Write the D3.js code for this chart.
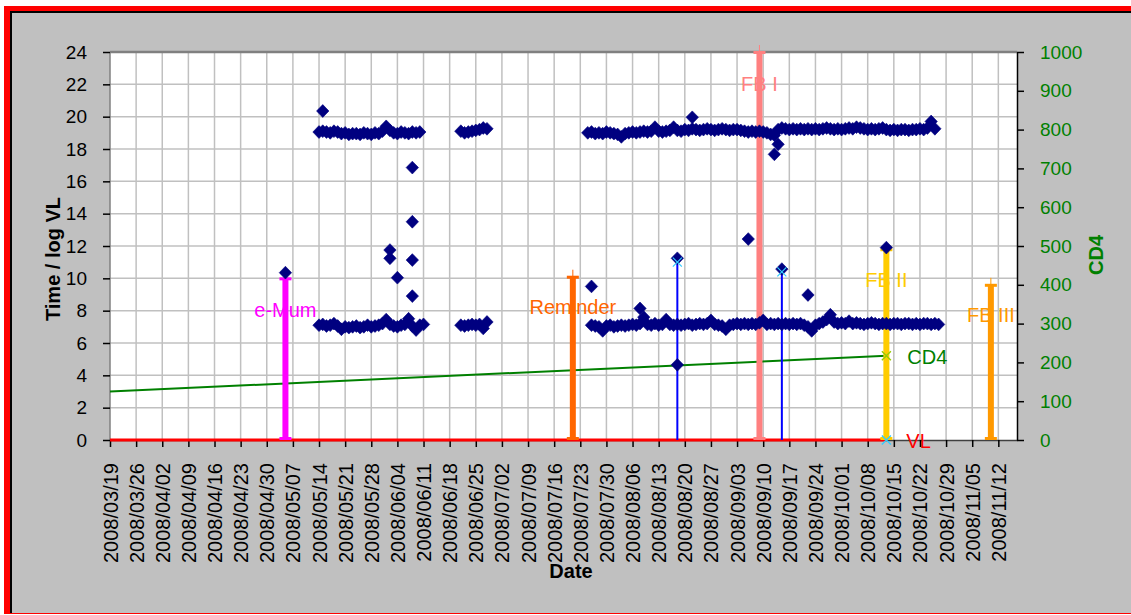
<!DOCTYPE html>
<html>
<head>
<meta charset="utf-8">
<script src="https://cdnjs.cloudflare.com/ajax/libs/d3/7.8.5/d3.min.js"></script>
<style>
body { margin: 0; background: #fff; }
svg text { font-family: "Liberation Sans", Arial, sans-serif; }
</style>
</head>
<body>
<div id="chart"></div>
<script>
var w = 1131, h = 615;

// axis range and ticks
var axisStart = "2008-03-19", axisEnd = "2008-11-17";
var xTicks = ["2008-03-19", "2008-03-26", "2008-04-02", "2008-04-09", "2008-04-16", "2008-04-23",
    "2008-04-30", "2008-05-07", "2008-05-14", "2008-05-21", "2008-05-28", "2008-06-04", "2008-06-11",
    "2008-06-18", "2008-06-25", "2008-07-02", "2008-07-09", "2008-07-16", "2008-07-23", "2008-07-30",
    "2008-08-06", "2008-08-13", "2008-08-20", "2008-08-27", "2008-09-03", "2008-09-10", "2008-09-17",
    "2008-09-24", "2008-10-01", "2008-10-08", "2008-10-15", "2008-10-22", "2008-10-29", "2008-11-05",
    "2008-11-12"];
var yTicks = [0, 2, 4, 6, 8, 10, 12, 14, 16, 18, 20, 22, 24];
var cd4Ticks = [0, 100, 200, 300, 400, 500, 600, 700, 800, 900, 1000];

// evening dose times (one value per day from the start date)
var evening1Start = "2008-05-14";
var evening1 = [19.05, 19.1, 19.05, 19.0, 19.1, 19.05, 18.95, 19.0, 18.9, 18.95, 18.95, 18.9, 19.0, 18.95,
    18.9, 19.0, 18.95, 19.1, 19.4, 19.15, 19.0, 18.95, 19.05, 19.0, 18.95, 19.05, 19.0, 19.05];
var evening2Start = "2008-06-21";
var evening2 = [19.1, 19.0, 19.05, 19.1, 19.15, 19.2, 19.3, 19.25];
var evening3Start = "2008-07-25";
var evening3 = [19.0, 19.05, 18.95, 19.0, 18.95, 19.05, 19.0, 18.95, 18.9, 18.75,
    18.95, 19.0, 19.05, 19.0, 19.05, 19.1, 19.05, 19.1, 19.35, 19.1,
    19.05, 19.1, 19.15, 19.35, 19.15, 19.1, 19.2, 19.15, 19.25, 19.2,
    19.15, 19.2, 19.25, 19.2, 19.15, 19.2, 19.25, 19.2, 19.15, 19.2,
    19.2, 19.15, 19.1, 19.05, 19.1, 19.05, 19.1, 19.05, 19.0, 18.9,
    18.85, 19.2, 19.3, 19.25, 19.2, 19.25, 19.2, 19.25, 19.2, 19.25,
    19.2, 19.25, 19.2, 19.25, 19.3, 19.25, 19.2, 19.25, 19.2, 19.25,
    19.3, 19.25, 19.35, 19.3, 19.25, 19.2, 19.25, 19.2, 19.25, 19.3,
    19.2, 19.15, 19.2, 19.15, 19.2, 19.2, 19.15, 19.2, 19.2, 19.25,
    19.2, 19.3, 19.7, 19.25];

// morning dose times
var morning1Start = "2008-05-14";
var morning1 = [7.1, 7.15, 7.05, 7.1, 7.2, 7.05, 6.85, 7.0, 6.95, 7.0, 7.05, 6.95, 7.0, 7.1, 7.0,
    7.05, 7.1, 7.2, 7.45, 7.15, 7.05, 7.0, 7.1, 7.15, 7.5, 7.05, 6.8, 7.1, 7.15];
var morning2Start = "2008-06-21";
var morning2 = [7.1, 7.05, 7.1, 7.15, 7.1, 7.15, 6.9, 7.3];
var morning3Start = "2008-07-26";
var morning3 = [7.1, 7.05, 7.0, 6.75, 7.05, 7.1, 7.0, 7.05, 7.1, 7.05,
    7.1, 7.15, 7.1, 7.2, 7.6, 7.15, 7.1, 7.2, 7.1, 7.15,
    7.45, 7.15, 7.1, 7.15, 7.1, 7.15, 7.2, 7.1, 7.15, 7.2,
    7.15, 7.2, 7.4, 7.15, 7.1, 7.05, 6.85, 7.1, 7.15, 7.2,
    7.15, 7.2, 7.15, 7.2, 7.15, 7.25, 7.4, 7.15, 7.2, 7.15,
    7.2, 7.15, 7.2, 7.15, 7.2, 7.15, 7.2, 7.1, 7.0, 6.75,
    7.1, 7.2, 7.3, 7.45, 7.75, 7.3, 7.2, 7.25, 7.2, 7.35,
    7.2, 7.25, 7.2, 7.15, 7.2, 7.25, 7.2, 7.15, 7.2, 7.2,
    7.15, 7.2, 7.2, 7.15, 7.2, 7.2, 7.15, 7.2, 7.15, 7.2,
    7.2, 7.15, 7.2, 7.15];

// off-schedule openings
var extraDates = ["2008-05-05", "2008-05-15", "2008-06-02", "2008-06-02", "2008-06-04", "2008-06-08",
    "2008-06-08", "2008-06-08", "2008-06-08", "2008-07-26", "2008-08-08", "2008-08-18", "2008-08-18",
    "2008-08-22", "2008-09-06", "2008-09-13", "2008-09-14", "2008-09-15", "2008-09-22", "2008-10-13"];
var extraValues = [10.35, 20.35, 11.75, 11.24, 10.04, 16.85, 13.5, 11.13, 8.9, 9.5, 8.14, 11.24, 4.65,
    19.96, 12.43, 17.67, 18.29, 10.57, 8.97, 11.9];

// interventions
var eventNames = ["e-Mum", "Reminder", "FB I", "FB II", "FB III"];
var eventDates = ["2008-05-05", "2008-07-21", "2008-09-09", "2008-10-13", "2008-11-10"];
var eventTops = [10, 10.1, 24, 11.8, 9.6];

// thin blue markers
var blueDates = ["2008-08-18", "2008-09-15"];
var blueTops = [11.0, 10.4];

// CD4 and VL
var cd4Dates = ["2008-03-19", "2008-10-13"];
var cd4Values = [125, 217];
var vlDates = ["2008-03-19", "2008-10-13"];
var vlValues = [0, 0];

// styles / layout
var eventColor = { "e-Mum": "#ff00ff", "Reminder": "#ff6600", "FB I": "#ff8080", "FB II": "#ffcc00", "FB III": "#ff9900" };
var eventLabelAt = { "e-Mum": 7.6, "Reminder": 7.8, "FB I": 21.6, "FB II": 9.45, "FB III": 7.3 };
var navy = "#000080";
var plotL = 110, plotR = 1017, plotT = 52, plotB = 440;

var parse = d3.utcParse("%Y-%m-%d");
var fmt = d3.utcFormat("%Y/%m/%d");

function daily(start, values) {
    var s = parse(start);
    return values.map(function (v, i) { return { date: d3.utcDay.offset(s, i), value: v }; });
}

var x = d3.scaleUtc().domain([parse(axisStart), parse(axisEnd)]).range([plotL, plotR]);
var y = d3.scaleLinear().domain([0, 24]).range([plotB, plotT]);
var y2 = d3.scaleLinear().domain([0, 1000]).range([plotB, plotT]);

var svg = d3.select("#chart").append("svg")
    .attr("width", w)
    .attr("height", h);

// frame
svg.append("rect").attr("x", 0).attr("y", 0).attr("width", w).attr("height", h).attr("fill", "#fff");
svg.append("rect").attr("x", 4).attr("y", 6).attr("width", w - 4).attr("height", 608).attr("fill", "#ff0000");
svg.append("rect").attr("x", 10).attr("y", 11).attr("width", w - 10).attr("height", 602).attr("fill", "#000");
svg.append("rect").attr("x", 12).attr("y", 13).attr("width", w - 12).attr("height", 600).attr("fill", "#c0c0c0");

// plot area
svg.append("rect")
    .attr("x", plotL).attr("y", plotT)
    .attr("width", plotR - plotL).attr("height", plotB - plotT)
    .attr("fill", "#fff");

var grid = svg.append("g").attr("stroke", "#c0c0c0").attr("stroke-width", 1.5);
grid.selectAll(".hg")
    .data(yTicks.slice(1, -1))
    .enter().append("line")
    .attr("x1", plotL).attr("x2", plotR)
    .attr("y1", function (d) { return y(d); })
    .attr("y2", function (d) { return y(d); });
grid.selectAll(".vg")
    .data(xTicks.slice(1))
    .enter().append("line")
    .attr("y1", plotT).attr("y2", plotB)
    .attr("x1", function (d) { return x(parse(d)); })
    .attr("x2", function (d) { return x(parse(d)); });

// plot border
svg.append("line").attr("x1", plotL).attr("x2", plotR).attr("y1", plotT).attr("y2", plotT)
    .attr("stroke", "#808080").attr("stroke-width", 2.5);
svg.append("line").attr("x1", plotL).attr("x2", plotL).attr("y1", plotT).attr("y2", plotB)
    .attr("stroke", "#808080").attr("stroke-width", 1.5);

// axes
var xAxis = svg.append("g")
    .attr("transform", "translate(0," + plotB + ")")
    .call(d3.axisBottom(x)
        .tickValues(xTicks.map(parse))
        .tickSize(7)
        .tickSizeOuter(0)
        .tickFormat(fmt));
xAxis.select(".domain").attr("stroke", "#404040").attr("stroke-width", 1.5);
xAxis.selectAll(".tick line").attr("stroke", "#000").attr("stroke-width", 1.5);
xAxis.selectAll("text")
    .attr("transform", "rotate(-90)")
    .attr("text-anchor", "end")
    .attr("x", -23)
    .attr("y", 0)
    .attr("dy", "0.35em")
    .attr("font-size", "20px")
    .attr("fill", "#000");
xAxis.attr("font-family", null);

var yAxis = svg.append("g")
    .attr("transform", "translate(" + plotL + ",0)")
    .call(d3.axisLeft(y).tickValues(yTicks).tickSize(7).tickSizeOuter(0).tickPadding(16));
yAxis.select(".domain").remove();
yAxis.selectAll(".tick line").attr("stroke", "#000").attr("stroke-width", 1.5);
yAxis.selectAll("text").attr("font-size", "19px").attr("fill", "#000");
yAxis.attr("font-family", null);

var y2Axis = svg.append("g")
    .attr("transform", "translate(" + plotR + ",0)")
    .call(d3.axisRight(y2).tickValues(cd4Ticks).tickFormat(d3.format("d"))
        .tickSize(7).tickSizeOuter(0).tickPadding(16));
y2Axis.select(".domain").attr("stroke", "#000").attr("stroke-width", 1.5);
y2Axis.selectAll(".tick line").attr("stroke", "#000").attr("stroke-width", 1.5);
y2Axis.selectAll("text").attr("font-size", "19px").attr("fill", "#008000");
y2Axis.attr("font-family", null);

// axis titles
svg.append("text")
    .attr("transform", "translate(60,259) rotate(-90)")
    .attr("text-anchor", "middle")
    .attr("font-size", "20px").attr("font-weight", "bold")
    .text("Time / log VL");
svg.append("text")
    .attr("transform", "translate(1103,255) rotate(-90)")
    .attr("text-anchor", "middle")
    .attr("font-size", "20px").attr("font-weight", "bold")
    .attr("fill", "#008000")
    .text("CD4");
svg.append("text")
    .attr("x", 571).attr("y", 578)
    .attr("text-anchor", "middle")
    .attr("font-size", "20px").attr("font-weight", "bold")
    .text("Date");

// CD4 line
var cd4 = cd4Dates.map(function (d, i) { return { date: parse(d), value: cd4Values[i] }; });
svg.append("path")
    .datum(cd4)
    .attr("fill", "none")
    .attr("stroke", "#008000")
    .attr("stroke-width", 2)
    .attr("d", d3.line().x(function (d) { return x(d.date); }).y(function (d) { return y2(d.value); }));

// VL line
var vl = vlDates.map(function (d, i) { return { date: parse(d), value: vlValues[i] }; });
svg.append("path")
    .datum(vl)
    .attr("fill", "none")
    .attr("stroke", "#ff0000")
    .attr("stroke-width", 3)
    .attr("d", d3.line().x(function (d) { return x(d.date); }).y(function (d) { return y(d.value); }));

// intervention labels (under the bars)
svg.selectAll(".evlabel")
    .data(eventNames)
    .enter().append("text")
    .attr("x", function (d, i) { return x(parse(eventDates[i])); })
    .attr("y", function (d) { return y(eventLabelAt[d]); })
    .attr("text-anchor", "middle")
    .attr("font-size", "20px")
    .attr("fill", function (d) { return eventColor[d]; })
    .text(function (d) { return d; });

// thin blue lines
svg.selectAll(".blue")
    .data(blueDates)
    .enter().append("line")
    .attr("x1", function (d) { return x(parse(d)); })
    .attr("x2", function (d) { return x(parse(d)); })
    .attr("y1", y(0))
    .attr("y2", function (d, i) { return y(blueTops[i]); })
    .attr("stroke", "#0000ff")
    .attr("stroke-width", 2);

// intervention bars
var ev = svg.selectAll(".ev")
    .data(eventNames)
    .enter().append("g")
    .attr("transform", function (d, i) { return "translate(" + x(parse(eventDates[i])) + ",0)"; });
ev.append("line")
    .attr("x1", 0).attr("x2", 0)
    .attr("y1", function (d, i) { return y(eventTops[i]) - 7; })
    .attr("y2", function (d, i) { return y(eventTops[i]); })
    .attr("stroke", function (d) { return eventColor[d]; })
    .attr("stroke-width", 1);
ev.append("rect")
    .attr("x", -3).attr("width", 6)
    .attr("y", function (d, i) { return y(eventTops[i]); })
    .attr("height", function (d, i) { return y(0) - y(eventTops[i]); })
    .attr("fill", function (d) { return eventColor[d]; });
ev.append("rect")
    .attr("x", -6).attr("width", 12)
    .attr("y", function (d, i) { return y(eventTops[i]) - 1; })
    .attr("height", 3)
    .attr("fill", function (d) { return eventColor[d]; });
ev.append("rect")
    .attr("x", -6).attr("width", 12)
    .attr("y", y(0) - 3)
    .attr("height", 3)
    .attr("fill", function (d) { return eventColor[d]; });

// dose time markers
var doses = [].concat(
    daily(evening1Start, evening1), daily(evening2Start, evening2), daily(evening3Start, evening3),
    daily(morning1Start, morning1), daily(morning2Start, morning2), daily(morning3Start, morning3),
    extraDates.map(function (d, i) { return { date: parse(d), value: extraValues[i] }; })
);
var diamond = "M0,-6.4L6.2,0L0,6.4L-6.2,0Z";
svg.append("g").selectAll("path")
    .data(doses)
    .enter().append("path")
    .attr("d", diamond)
    .attr("transform", function (d) { return "translate(" + x(d.date) + "," + y(d.value) + ")"; })
    .attr("fill", navy)
    .attr("stroke", navy)
    .attr("stroke-width", 0.6);

// x markers
var cross = "M-4.5,-4.5L4.5,4.5M-4.5,4.5L4.5,-4.5";
svg.selectAll(".bx")
    .data(blueDates)
    .enter().append("path")
    .attr("d", cross)
    .attr("transform", function (d, i) { return "translate(" + x(parse(d)) + "," + y(blueTops[i]) + ")"; })
    .attr("stroke", "#33ccff").attr("stroke-width", 1.2).attr("fill", "none");

var cd4End = cd4[cd4.length - 1], vlEnd = vl[vl.length - 1];
svg.append("path").attr("d", cross)
    .attr("transform", "translate(" + x(cd4End.date) + "," + y2(cd4End.value) + ")")
    .attr("stroke", "#99cc00").attr("stroke-width", 1.4).attr("fill", "none");
svg.append("path").attr("d", cross)
    .attr("transform", "translate(" + x(vlEnd.date) + "," + y(vlEnd.value) + ")")
    .attr("stroke", "#33ccff").attr("stroke-width", 1.4).attr("fill", "none");

svg.append("text")
    .attr("x", x(cd4End.date) + 21).attr("y", y2(cd4End.value) + 8)
    .attr("font-size", "20px").attr("fill", "#008000")
    .text("CD4");
svg.append("text")
    .attr("x", x(vlEnd.date) + 20).attr("y", y(vlEnd.value) + 8)
    .attr("font-size", "20px").attr("fill", "#ff0000")
    .text("VL");
</script>
</body>
</html>
